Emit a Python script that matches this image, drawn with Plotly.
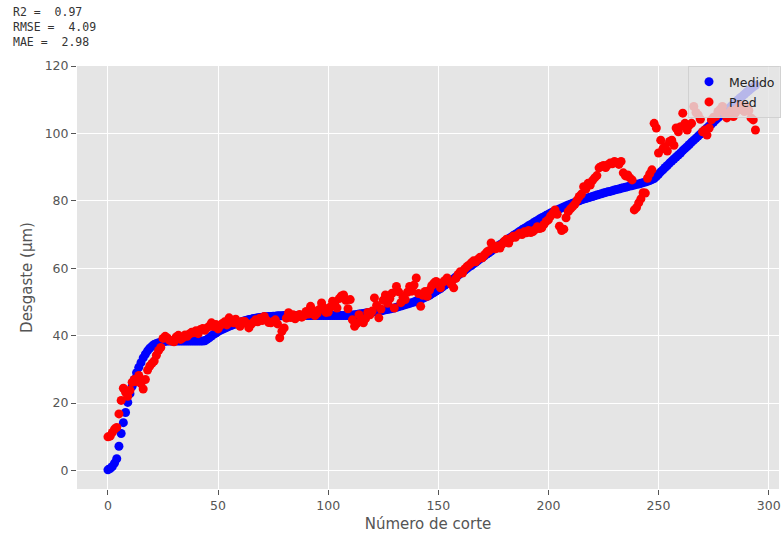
import plotly.graph_objects as go

metric_names = ["R2", "RMSE", "MAE"]
metric_values = [0.97, 4.09, 2.98]

medido = [
    0.2, 0.6, 1.2, 2.2, 3.5, 7.2, 11.0, 14.2, 17.2, 20.2, 22.8, 25.0, 27.0, 29.0, 30.6, 32.0,
    33.4, 34.5, 35.5, 36.3, 36.9, 37.4, 37.7, 37.9,
    38.1, 38.3, 38.3, 38.4, 38.4, 38.4, 38.4, 38.4, 38.4, 38.4, 38.4, 38.4, 38.4, 38.4, 38.4,
    38.4, 38.4, 38.4, 38.4, 38.4, 38.5,
    38.9, 39.4, 39.9, 40.4, 40.8, 41.2, 41.6, 41.9, 42.2, 42.5, 42.8, 43.0, 43.3, 43.5, 43.7, 43.9,
    44.2, 44.4, 44.6, 44.8, 44.9, 45.1, 45.2, 45.3, 45.4, 45.5, 45.6, 45.6, 45.7, 45.7, 45.8,
    45.8, 45.9, 45.9, 45.9, 46.0,
    46.0, 46.0, 46.0, 46.0, 46.0, 46.0, 46.0, 46.0, 46.0, 46.0, 46.0, 46.0, 46.0, 46.0, 46.0,
    46.0, 46.0, 46.0, 46.0, 46.0, 46.0, 46.0, 46.0, 46.0, 46.0, 46.0, 46.0, 46.0, 46.0, 46.0,
    46.1, 46.2, 46.3, 46.4, 46.5, 46.6, 46.7, 46.8, 46.9, 47.0, 47.1, 47.2, 47.3, 47.4, 47.5,
    47.7, 47.8, 47.9, 48.1, 48.2, 48.4, 48.6, 48.8, 49.0, 49.2, 49.4, 49.6, 49.8, 50.0, 50.3,
    50.5, 50.8, 51.1, 51.4, 51.7, 52.0, 52.4, 52.8, 53.2, 53.6,
    54.0, 54.5, 55.0, 55.4, 55.9, 56.4, 56.9, 57.4, 57.9, 58.4, 58.9, 59.4, 59.9, 60.4, 60.8,
    61.3, 61.8, 62.3, 62.8, 63.2, 63.7, 64.2, 64.6, 65.1, 65.6, 66.0, 66.5, 67.0, 67.4, 67.9,
    68.3, 68.8, 69.2, 69.7, 70.1, 70.5, 71.0, 71.4, 71.8, 72.2, 72.6, 73.0, 73.4, 73.8, 74.2,
    74.6, 75.0, 75.3, 75.7, 76.0,
    76.4, 76.7, 77.0, 77.3, 77.6, 77.9, 78.2, 78.5, 78.8, 79.0, 79.3, 79.5, 79.8, 80.0, 80.3,
    80.5, 80.7, 80.9, 81.1, 81.3, 81.5, 81.7, 81.9, 82.1, 82.3, 82.5, 82.7, 82.8, 83.0, 83.2,
    83.4, 83.5, 83.7, 83.9, 84.0, 84.2, 84.4, 84.5, 84.7, 84.9, 85.0, 85.2, 85.4, 85.6, 85.8,
    86.0, 86.3, 86.6,
    87.2, 87.9, 88.6, 89.2, 89.9, 90.5, 91.2, 91.8, 92.4, 93.0, 93.6, 94.2, 94.9, 95.5, 96.1,
    96.7, 97.4, 98.0, 98.6, 99.2, 99.8, 100.4, 101.0, 101.6, 102.2, 102.8, 103.4, 104.0, 104.6,
    105.2, 105.8, 106.4, 107.0, 107.5, 108.1, 108.7, 109.3, 109.9, 110.5, 111.0, 111.6, 112.2,
    112.7, 113.3, 113.8, 114.3,
]

pred = [
    10.0, 10.2, 11.3, 12.3, 12.8, 16.8, 20.8, 24.4, 23.2, 22.0, 23.8, 26.2, 27.0, 26.4, 28.2,
    25.8, 24.2, 27.0, 29.8, 31.0, 31.8, 32.5, 34.2, 35.6, 36.5,
    39.2, 39.8, 39.3, 38.6, 38.4, 38.2, 39.6, 40.1, 38.9, 39.4, 40.2, 39.8, 40.5, 41.0, 40.9,
    41.5, 40.6, 41.8, 42.1, 41.6, 42.3, 42.8, 43.8, 42.7, 43.3, 42.0,
    43.0, 43.6, 44.1, 43.2, 45.3, 44.6, 43.8, 44.9, 43.5, 42.8, 44.2, 44.3, 43.6, 42.3, 43.4,
    44.0, 44.7, 44.1, 45.2, 44.5, 45.7, 44.6, 43.9, 43.8, 44.2, 44.7, 43.5, 39.4, 41.3, 42.3,
    45.2, 46.8, 45.4, 46.2, 45.0, 45.7, 46.3, 45.5, 46.0, 47.2, 46.4, 48.7, 47.5, 46.0, 46.6,
    47.8, 49.7, 48.3, 46.9, 47.0,
    48.5, 50.2, 49.4, 48.2, 51.0, 51.8, 52.1, 50.5, 48.0, 50.7, 44.7, 42.8, 43.6, 46.2, 44.5,
    43.8, 45.1, 46.9, 46.2, 47.3, 51.2, 49.0, 45.3, 47.9, 50.5, 52.1, 49.6, 51.0, 52.6, 48.2,
    54.6, 53.0, 49.8, 51.4, 50.7, 52.9, 54.6, 53.2, 55.0, 57.1, 52.5, 48.7, 52.0, 53.1, 51.7,
    53.5, 54.8, 55.6, 56.1, 55.3,
    54.2, 55.8, 56.4, 57.1, 56.0, 55.2, 54.2, 57.0, 58.2, 59.0, 58.6, 59.8, 60.5, 61.0, 61.6,
    62.2, 61.9, 62.7, 63.3, 63.1, 64.0, 64.8, 65.2, 67.5, 66.4, 65.8, 66.6, 66.0, 67.2, 68.0,
    68.6, 67.5, 68.9, 69.5, 69.2, 69.9, 70.4, 70.0, 70.8, 70.5, 71.2, 70.6, 70.9, 71.5, 72.3,
    71.8, 72.0, 73.0, 73.9, 74.4,
    75.5, 76.3, 77.3, 76.0, 72.5, 71.2, 71.6, 75.0, 76.8, 77.6, 78.3, 79.0, 80.2, 81.3, 82.0,
    84.2, 83.5, 85.2, 84.7, 86.0, 86.8, 87.5, 89.8, 90.2, 90.5, 89.9, 90.7, 91.2, 91.0, 91.7,
    91.4, 90.8, 91.7, 88.3, 87.4, 87.7, 86.8, 86.2, 77.3, 78.0, 79.4, 80.6, 82.4, 82.3, 86.7,
    88.0, 89.2, 103.0, 101.6, 94.2,
    98.0, 95.5, 96.1, 94.8, 97.6, 98.0, 96.5, 101.6, 100.5, 102.0, 106.0, 103.0, 101.0, 102.5,
    103.0, 108.0, 106.2, 105.5, 104.2, 100.5, 101.0, 99.5, 101.6, 104.0, 104.8, 105.0, 106.5,
    107.2, 108.0, 106.0, 104.6, 105.5, 106.8, 105.0, 106.2, 107.5, 108.4, 107.0, 106.5, 108.0,
    106.8, 104.6, 104.0, 101.0,
]

x_ticks = [0, 50, 100, 150, 200, 250, 300]
y_ticks = [0, 20, 40, 60, 80, 100, 120]

W, H = 781, 536
L, R, T, B = 77, 0, 66, 47
pw, ph = W - L - R, H - T - B

fig = go.Figure()
fig.add_trace(go.Scatter(
    x=list(range(len(medido))), y=medido, mode="markers", name="Medido",
    marker=dict(color="#0000FF", size=9, line=dict(width=0)), legendgroup="a",
))
fig.add_trace(go.Scatter(
    x=list(range(len(pred))), y=pred, mode="markers", name="Pred",
    marker=dict(color="#FF0000", size=9, line=dict(width=0)), legendgroup="b",
))

tick_font = dict(family="DejaVu Sans", size=12.5, color="#555555")
title_font = dict(family="DejaVu Sans", size=15, color="#555555")

fig.update_layout(
    width=W, height=H,
    margin=dict(l=L, r=R, t=T, b=B, pad=0),
    paper_bgcolor="white",
    plot_bgcolor="#E5E5E5",
    showlegend=True,
    legend=dict(
        x=(690 - L) / pw, y=(H - B - 66) / ph, xanchor="left", yanchor="top",
        bgcolor="rgba(229,229,229,0.8)", bordercolor="rgba(204,204,204,0.8)", borderwidth=1,
        font=dict(family="DejaVu Sans", size=12.5, color="#222222"),
        tracegroupgap=1,
    ),
    xaxis=dict(
        range=[-14.05, 304.7], tickvals=x_ticks, ticktext=[str(v) for v in x_ticks],
        showgrid=True, gridcolor="white", gridwidth=1, zeroline=False, showline=False,
        ticks="outside", ticklen=5, tickcolor="#555555", tickwidth=1,
        tickfont=tick_font, automargin=False,
        title=dict(text="Número de corte", font=title_font, standoff=6),
    ),
    yaxis=dict(
        range=[-5.48, 120.0], tickvals=y_ticks, ticktext=[str(v) for v in y_ticks],
        showgrid=True, gridcolor="white", gridwidth=1, zeroline=False, showline=False,
        ticks="outside", ticklen=5, tickcolor="#555555", tickwidth=1,
        tickfont=tick_font, automargin=False,
        title=dict(text="Desgaste (µm)", font=title_font, standoff=8),
    ),
)

line_y = [12, 27, 42]
texts = [
    f"{metric_names[0]} =  {metric_values[0]:.2f}",
    f"{metric_names[1]} =  {metric_values[1]:.2f}",
    f"{metric_names[2]} =  {metric_values[2]:.2f}",
]
for t, yy in zip(texts, line_y):
    fig.add_annotation(
        text=t, xref="paper", yref="paper",
        x=(11 - L) / pw, y=(H - B - yy) / ph, xanchor="left", yanchor="middle",
        showarrow=False, font=dict(family="DejaVu Sans Mono", size=11.5, color="#333333"),
    )

fig.write_html(
    "out.html",
    config={"displayModeBar": False},
    post_script="document.body.style.margin='0';document.body.style.overflow='hidden';",
)
